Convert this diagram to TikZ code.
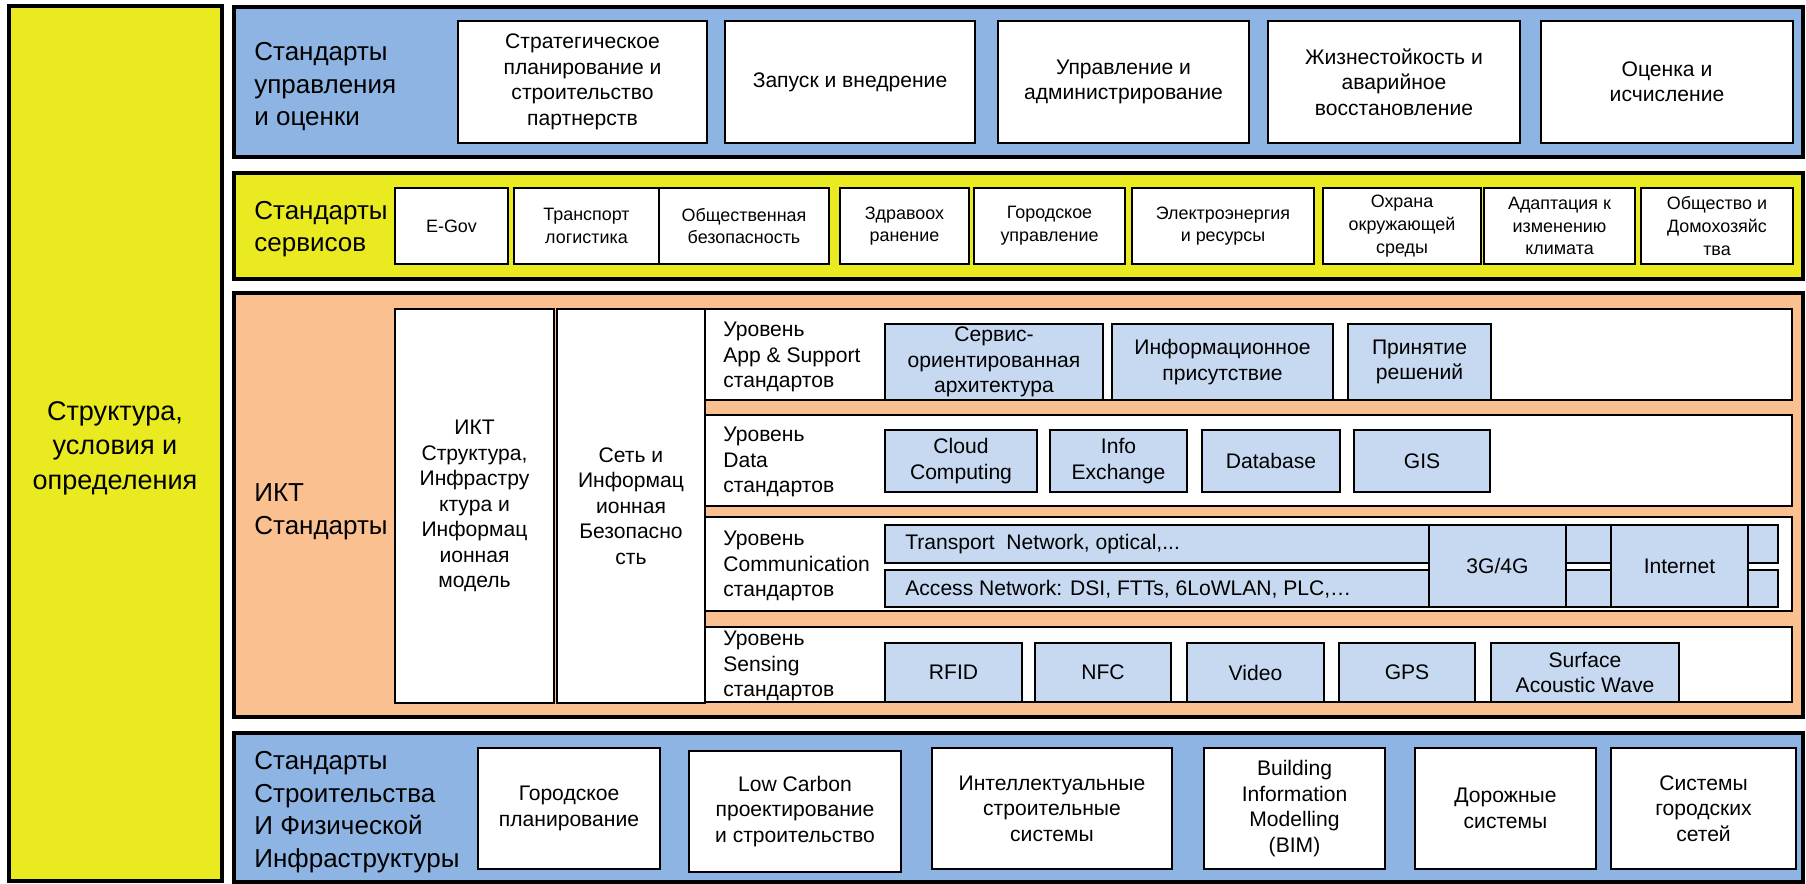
\documentclass[tikz,border=0pt]{standalone}
\usepackage{fontspec}
\setmainfont{Liberation Sans}
\usetikzlibrary{positioning}

\definecolor{mgmtblue}{RGB}{141,180,226}
\definecolor{srvyellow}{RGB}{233,234,31}
\definecolor{ictorange}{RGB}{250,192,144}
\definecolor{techblue}{RGB}{198,217,241}

\begin{document}
\begin{tikzpicture}[x=0.02cm, y=-0.02cm,
    cell/.style n args={4}{at={({(#1+#3)/2},{(#2+#4)/2})},
        minimum width={(#3-#1)*0.02cm}, minimum height={(#4-#2)*0.02cm},
        inner sep=0pt, outer sep=0pt},
    panel/.style={draw, line width=2pt},
    tile/.style={draw, fill=white, line width=1.2pt, align=center,
        font=\fontsize{12}{14.5}\selectfont},
    tech/.style={tile, fill=techblue},
    srv/.style={tile, font=\fontsize{10.2}{12.9}\selectfont},
    head/.style={anchor=west, align=left, inner sep=0pt,
        font=\fontsize{14.8}{18.5}\selectfont},
    lvl/.style={anchor=west, align=left, inner sep=0pt,
        font=\fontsize{12}{14.5}\selectfont}]
    \useasboundingbox (0,0) rectangle (1806,884);

    % frame and the four bands
    \node[panel, fill=srvyellow, cell={9}{6}{222}{881}] (frame) {};
    \node[head, anchor=center, align=center, font=\fontsize{15.4}{19.6}\selectfont] (framet) at (115,448) {Структура,\\условия и\\определения};
    \node[panel, fill=mgmtblue, cell={234}{7}{1803}{157}] (mgmt) {};
    \node[panel, fill=srvyellow, cell={234}{173}{1803}{279}] (srv) {};
    \node[panel, fill=ictorange, cell={234}{293}{1803}{717}] (ict) {};
    \node[panel, fill=mgmtblue, cell={234}{733}{1803}{882}] (bld) {};

    % management
    \node[head] (mgmtt) at (254,87) {Стандарты\\управления\\и оценки};
    \node[tile, cell={458}{21}{707}{143}] (m1) {Стратегическое\\планирование и\\строительство\\партнерств};
    \node[tile, cell={725}{21}{975}{143}] (m2) {Запуск и внедрение};
    \node[tile, cell={998}{21}{1249}{143}] (m3) {Управление и\\администрирование};
    \node[tile, cell={1268}{21}{1520}{143}] (m4) {Жизнестойкость и\\аварийное\\восстановление};
    \node[tile, cell={1541}{21}{1793}{143}] (m5) {Оценка и\\исчисление};

    % services
    \node[head] (srvt) at (254,229) {Стандарты\\сервисов};
    \node[srv, cell={395}{188}{508}{264}] (s1) {E-Gov};
    \node[srv, cell={514}{188}{659}{264}] (s2) {Транспорт\\логистика};
    \node[srv, cell={659}{188}{829}{264}] (s3) {Общественная\\безопасность};
    \node[srv, cell={840}{188}{969}{264}] (s4) {Здравоох\\ранение};
    \node[srv, cell={974}{188}{1125}{264}] (s5) {Городское\\управление};
    \node[srv, cell={1132}{188}{1314}{264}] (s6) {Электроэнергия\\и ресурсы};
    \node[srv, cell={1323}{188}{1481}{264}] (s7) {Охрана\\окружающей\\среды};
    \node[srv, cell={1484}{188}{1635}{264}] (s8) {Адаптация к\\изменению\\климата};
    \node[srv, cell={1641}{188}{1793}{264}] (s9) {Общество и\\Домохозяйс\\тва};

    % ICT
    \node[head] (ictt) at (254,512) {ИКТ\\Стандарты};
    \node[tile, cell={395}{309}{554}{703}] (ictm) {ИКТ\\Структура,\\Инфрастру\\ктура и\\Информац\\ионная\\модель};
    \node[tile, cell={557}{309}{705}{703}] (ictsec) {Сеть и\\Информац\\ионная\\Безопасно\\сть};
    \node[tile, cell={705}{309}{1792}{400}] (lvl1) {};
    \node[tile, cell={705}{415}{1792}{506}] (lvl2) {};
    \node[tile, cell={705}{517}{1792}{611}] (lvl3) {};
    \node[tile, cell={705}{627}{1792}{702}] (lvl4) {};
    \node[lvl] (lvl1t) at (723,357) {Уровень\\App \& Support\\стандартов};
    \node[lvl] (lvl2t) at (723,462) {Уровень\\Data\\стандартов};
    \node[lvl] (lvl3t) at (723,566) {Уровень\\Communication\\стандартов};
    \node[lvl] (lvl4t) at (723,666) {Уровень\\Sensing\\стандартов};

    \node[tech, cell={885}{324}{1103}{400}] (a1) {Сервис-\\ориентированная\\архитектура};
    \node[tech, cell={1112}{324}{1333}{400}] (a2) {Информационное\\присутствие};
    \node[tech, cell={1348}{324}{1491}{400}] (a3) {Принятие\\решений};

    \node[tech, cell={885}{430}{1037}{492}] (d1) {Cloud\\Computing};
    \node[tech, cell={1050}{430}{1187}{492}] (d2) {Info\\Exchange};
    \node[tech, cell={1202}{430}{1340}{492}] (d3) {Database};
    \node[tech, cell={1354}{430}{1490}{492}] (d4) {GIS};

    \node[tech, cell={885}{525}{1429}{563}] (c1) {};
    \node[tech, cell={885}{570}{1429}{607}] (c2) {};
    \node[lvl] (c1t) at (905,544) {Transport\ \ Network, optical,...};
    \node[lvl] (c2t) at (905,589) {Access Network: DSI, FTTs, 6LoWLAN, PLC,…};
    \node[tech, cell={1429}{525}{1566}{607}] (c3) {3G/4G};
    \node[tech, cell={1566}{525}{1611}{563}] (c4) {};
    \node[tech, cell={1566}{570}{1611}{607}] (c5) {};
    \node[tech, cell={1611}{525}{1748}{607}] (c6) {Internet};
    \node[tech, cell={1748}{525}{1778}{563}] (c7) {};
    \node[tech, cell={1748}{570}{1778}{607}] (c8) {};

    \node[tech, cell={885}{643}{1022}{702}] (e1) {RFID};
    \node[tech, cell={1035}{643}{1171}{702}] (e2) {NFC};
    \node[tech, cell={1187}{643}{1324}{702}] (e3) {Video};
    \node[tech, cell={1339}{643}{1475}{702}] (e4) {GPS};
    \node[tech, cell={1491}{643}{1679}{702}] (e5) {Surface\\Acoustic Wave};

    % building
    \node[head] (bldt) at (254,812) {Стандарты\\Строительства\\И Физической\\Инфраструктуры};
    \node[tile, cell={478}{748}{660}{869}] (b1) {Городское\\планирование};
    \node[tile, cell={689}{751}{901}{872}] (b2) {Low Carbon\\проектирование\\и строительство};
    \node[tile, cell={932}{748}{1172}{869}] (b3) {Интеллектуальные\\строительные\\системы};
    \node[tile, cell={1204}{748}{1385}{869}] (b4) {Building\\Information\\Modelling\\(BIM)};
    \node[tile, cell={1415}{748}{1596}{869}] (b5) {Дорожные\\системы};
    \node[tile, cell={1611}{748}{1796}{869}] (b6) {Системы\\городских\\сетей};
\end{tikzpicture}
\end{document}
